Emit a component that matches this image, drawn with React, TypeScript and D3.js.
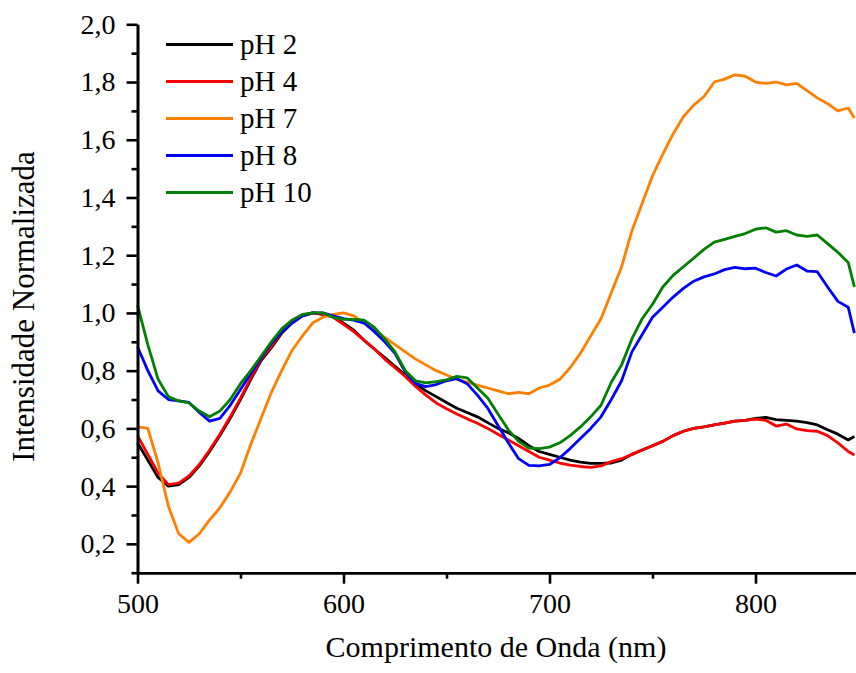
import React, { useEffect, useRef } from "react";
import * as d3 from "d3";

const wavelengths = [
  500, 505, 510, 515, 520, 525, 530, 535, 540, 545, 550, 555, 560, 565, 570, 575, 580, 585, 590, 595,
  600, 605, 610, 615, 620, 625, 630, 635, 640, 645, 650, 655, 660, 665, 670, 675, 680, 685, 690, 695,
  700, 705, 710, 715, 720, 725, 730, 735, 740, 745, 750, 755, 760, 765, 770, 775, 780, 785, 790, 795,
  800, 805, 810, 815, 820, 825, 830, 835, 840, 845, 848,
];

const pH2 = [
  0.55, 0.49, 0.43, 0.4, 0.405, 0.43, 0.47, 0.52, 0.575, 0.635, 0.7, 0.77, 0.835, 0.88, 0.93, 0.965, 0.99, 1.0, 0.995, 0.99,
  0.965, 0.94, 0.905, 0.875, 0.845, 0.815, 0.785, 0.755, 0.73, 0.71, 0.69, 0.67, 0.655, 0.64, 0.62, 0.6, 0.585, 0.565, 0.54, 0.52,
  0.51, 0.5, 0.49, 0.483, 0.479, 0.479, 0.48, 0.49, 0.51, 0.525, 0.54, 0.555, 0.575, 0.59, 0.6, 0.605, 0.612, 0.618, 0.625, 0.628,
  0.635, 0.638, 0.63, 0.628, 0.625, 0.62, 0.612, 0.595, 0.58, 0.56, 0.572,
];

const pH4 = [
  0.575, 0.51, 0.445, 0.405, 0.41, 0.435, 0.475, 0.525, 0.58, 0.64, 0.705, 0.775, 0.84, 0.885, 0.935, 0.97, 0.99, 1.0, 0.995, 0.985,
  0.96, 0.935, 0.905, 0.875, 0.84, 0.81, 0.78, 0.745, 0.715, 0.688, 0.668, 0.65, 0.633, 0.618, 0.6, 0.58, 0.56, 0.54, 0.52, 0.5,
  0.49, 0.48, 0.473, 0.468, 0.465, 0.47, 0.485, 0.495, 0.51, 0.525, 0.54, 0.555, 0.575, 0.59, 0.6, 0.605, 0.612, 0.618, 0.625, 0.628,
  0.632, 0.628, 0.608, 0.615, 0.598, 0.592, 0.59, 0.575, 0.55, 0.52, 0.508,
];

const pH7 = [
  0.605, 0.6, 0.48, 0.33, 0.235, 0.205, 0.235, 0.283, 0.325, 0.38, 0.445, 0.545, 0.635, 0.725, 0.8, 0.87, 0.92, 0.965, 0.985, 0.995,
  1.0, 0.99, 0.965, 0.94, 0.915, 0.89, 0.865, 0.84, 0.82, 0.8, 0.785, 0.77, 0.76, 0.75, 0.74, 0.73, 0.72, 0.725, 0.72, 0.74,
  0.75, 0.77, 0.81, 0.86, 0.92, 0.98, 1.07, 1.16, 1.285, 1.38, 1.475, 1.55, 1.62, 1.68, 1.72, 1.75, 1.8, 1.81, 1.825, 1.82,
  1.8, 1.795, 1.8, 1.79, 1.795, 1.77, 1.745, 1.725, 1.7, 1.71, 1.675,
];

const pH8 = [
  0.883, 0.8, 0.73, 0.7, 0.695, 0.69, 0.655, 0.625, 0.635, 0.68, 0.735, 0.79, 0.845, 0.895, 0.935, 0.965, 0.99, 1.0, 1.0, 0.99,
  0.98, 0.975, 0.965, 0.935, 0.9, 0.86, 0.795, 0.755, 0.745, 0.752, 0.765, 0.772, 0.755, 0.715, 0.67, 0.61, 0.55, 0.495, 0.472, 0.47,
  0.475, 0.498, 0.53, 0.565, 0.6, 0.64, 0.7, 0.765, 0.865, 0.925, 0.985, 1.02, 1.055, 1.085, 1.11, 1.125, 1.135, 1.15, 1.158, 1.153,
  1.155, 1.14, 1.128, 1.152, 1.166, 1.145, 1.143, 1.09, 1.04, 1.02, 0.93,
];

const pH10 = [
  1.027, 0.89, 0.77, 0.71, 0.695, 0.688, 0.66, 0.64, 0.66, 0.7, 0.755, 0.8, 0.85, 0.9, 0.945, 0.975, 0.995, 1.0, 1.0, 0.985,
  0.978, 0.978, 0.975, 0.95, 0.91, 0.865, 0.8, 0.765, 0.758, 0.762, 0.768, 0.78, 0.775, 0.74, 0.705, 0.65, 0.595, 0.555, 0.532, 0.53,
  0.535, 0.55, 0.575, 0.605, 0.64, 0.68, 0.76, 0.82, 0.91, 0.98, 1.03, 1.09, 1.13, 1.16, 1.19, 1.22, 1.245, 1.255, 1.265, 1.275,
  1.29, 1.295, 1.28, 1.285, 1.27, 1.265, 1.27, 1.24, 1.21, 1.175, 1.09,
];

const seriesNames = ["pH 2", "pH 4", "pH 7", "pH 8", "pH 10"];
const seriesValues = [pH2, pH4, pH7, pH8, pH10];
const seriesColors = ["#000000", "#ff0000", "#ff8000", "#0000ff", "#008000"];

const xTicks = [500, 600, 700, 800];
const xMinorTicks = [550, 650, 750, 850];
const yTicks = [0.2, 0.4, 0.6, 0.8, 1.0, 1.2, 1.4, 1.6, 1.8, 2.0];
const yMinorTicks = [0.1, 0.3, 0.5, 0.7, 0.9, 1.1, 1.3, 1.5, 1.7, 1.9];

const W = 856;
const H = 673;
const FONT = "'Liberation Serif', 'Times New Roman', serif";

export default function App() {
  const ref = useRef<SVGSVGElement>(null);

  useEffect(() => {
    const svg = d3.select(ref.current);
    svg.selectAll("*").remove();

    const x = d3.scaleLinear().domain([500, 850]).range([137.5, 858.5]);
    const y = d3.scaleLinear().domain([0.1, 2.0]).range([572.7, 24.3]);

    const g = svg.append("g");

    const line = d3
      .line<number>()
      .x((_, i) => x(wavelengths[i]))
      .y((d) => y(d));

    seriesValues.forEach((vals, si) => {
      g.append("path")
        .datum(vals)
        .attr("d", line)
        .attr("fill", "none")
        .attr("stroke", seriesColors[si])
        .attr("stroke-width", 2.8)
        .attr("stroke-linejoin", "round");
    });

    const fmt = (d: number) => d3.format(".1f")(d).replace(".", ",");

    const xAxis = svg
      .append("g")
      .attr("transform", `translate(0,${y(0.1)})`)
      .call(d3.axisBottom(x).tickValues(xTicks).tickSize(11).tickSizeOuter(0).tickPadding(9).tickFormat(d3.format("d") as any));
    const xMinor = svg
      .append("g")
      .attr("transform", `translate(0,${y(0.1)})`)
      .call(d3.axisBottom(x).tickValues(xMinorTicks).tickSize(6).tickSizeOuter(0).tickFormat(() => ""));

    const yAxis = svg
      .append("g")
      .attr("transform", `translate(${x(500)},0)`)
      .call(d3.axisLeft(y).tickValues(yTicks).tickSize(11).tickSizeOuter(0).tickPadding(11).tickFormat(fmt as any));
    const yMinor = svg
      .append("g")
      .attr("transform", `translate(${x(500)},0)`)
      .call(d3.axisLeft(y).tickValues(yMinorTicks).tickSize(6).tickSizeOuter(0).tickFormat(() => ""));

    [xAxis, xMinor, yAxis, yMinor].forEach((a) => {
      a.selectAll("path").attr("stroke", "#000").attr("stroke-width", 2.6);
      a.selectAll("line").attr("stroke", "#000").attr("stroke-width", 2.6);
      a.selectAll("text").attr("fill", "#000").style("font-family", FONT).style("font-size", "28px");
    });

    svg
      .append("text")
      .attr("x", 496)
      .attr("y", 657)
      .attr("text-anchor", "middle")
      .style("font-family", FONT)
      .style("font-size", "30px")
      .text("Comprimento de Onda (nm)");

    svg
      .append("text")
      .attr("transform", `translate(33.5,306.5) rotate(-90)`)
      .attr("text-anchor", "middle")
      .style("font-family", FONT)
      .style("font-size", "31px")
      .text("Intensidade Normalizada");

    const leg = svg.append("g");
    seriesNames.forEach((name, i) => {
      const ly = 44.5 + i * 37;
      leg
        .append("line")
        .attr("x1", 166)
        .attr("x2", 233)
        .attr("y1", ly)
        .attr("y2", ly)
        .attr("stroke", seriesColors[i])
        .attr("stroke-width", 2.8);
      leg
        .append("text")
        .attr("x", 240)
        .attr("y", ly + 9.5)
        .style("font-family", FONT)
        .style("font-size", "29px")
        .text(name);
    });
  }, []);

  return (
    <svg
      ref={ref}
      width={W}
      height={H}
      style={{ position: "absolute", left: 0, top: 0, background: "#fff" }}
    />
  );
}
